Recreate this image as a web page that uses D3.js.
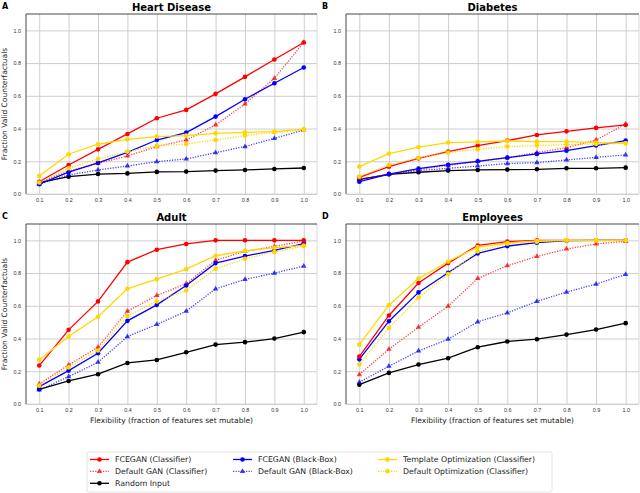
<!DOCTYPE html>
<html><head><meta charset="utf-8">
<script src="https://cdn.jsdelivr.net/npm/d3@7"></script>
<style>body{margin:0;background:#fff}svg{display:block;font-family:"DejaVu Sans",sans-serif}</style>
</head><body>
<svg id="c" width="640" height="493"></svg>
<script>
const flexibility = [0.1,0.2,0.3,0.4,0.5,0.6,0.7,0.8,0.9,1.0];
const xTickLabels = ["0.1","0.2","0.3","0.4","0.5","0.6","0.7","0.8","0.9","1.0"];
const yTickValues = [0.0,0.2,0.4,0.6,0.8,1.0];
const datasets = ["Heart Disease","Diabetes","Adult","Employees"];
const panelLetters = ["A","B","C","D"];
const seriesNames = ["FCEGAN (Classifier)","Default GAN (Classifier)","Random Input","FCEGAN (Black-Box)","Default GAN (Black-Box)","Template Optimization (Classifier)","Default Optimization (Classifier)"];

// Heart Disease
const heartFcegan     = [0.075,0.177,0.273,0.367,0.463,0.514,0.612,0.716,0.822,0.926];
const heartDefGan     = [0.070,0.140,0.188,0.232,0.290,0.330,0.422,0.550,0.707,0.926];
const heartRandom     = [0.070,0.106,0.122,0.126,0.135,0.137,0.143,0.147,0.153,0.159];
const heartFceganBB   = [0.060,0.133,0.190,0.255,0.330,0.375,0.473,0.579,0.677,0.773];
const heartDefGanBB   = [0.060,0.116,0.147,0.171,0.198,0.214,0.253,0.290,0.340,0.391];
const heartTemplate   = [0.110,0.243,0.304,0.334,0.351,0.357,0.371,0.377,0.381,0.396];
const heartDefOpt     = [0.070,0.157,0.214,0.259,0.294,0.306,0.330,0.357,0.377,0.391];
// Diabetes
const diabFcegan      = [0.102,0.167,0.218,0.259,0.296,0.326,0.361,0.383,0.404,0.422];
const diabDefGan      = [0.090,0.120,0.150,0.175,0.200,0.222,0.253,0.283,0.330,0.428];
const diabRandom      = [0.090,0.120,0.133,0.143,0.147,0.149,0.151,0.157,0.157,0.161];
const diabFceganBB    = [0.075,0.122,0.155,0.179,0.200,0.222,0.245,0.265,0.296,0.326];
const diabDefGanBB    = [0.086,0.122,0.143,0.157,0.171,0.186,0.192,0.208,0.224,0.239];
const diabTemplate    = [0.167,0.247,0.287,0.314,0.318,0.324,0.320,0.320,0.314,0.310];
const diabDefOpt      = [0.106,0.177,0.220,0.253,0.273,0.290,0.296,0.302,0.306,0.310];
// Adult
const adultFcegan     = [0.235,0.453,0.627,0.867,0.943,0.978,1.000,1.000,1.000,1.000];
const adultDefGan     = [0.122,0.239,0.347,0.567,0.663,0.735,0.878,0.933,0.963,0.996];
const adultRandom     = [0.090,0.141,0.182,0.251,0.269,0.316,0.363,0.378,0.400,0.439];
const adultFceganBB   = [0.106,0.204,0.310,0.508,0.606,0.724,0.861,0.904,0.939,0.980];
const adultDefGanBB   = [0.086,0.167,0.255,0.412,0.486,0.567,0.704,0.761,0.800,0.843];
const adultTemplate   = [0.271,0.412,0.533,0.704,0.763,0.824,0.906,0.935,0.955,0.969];
const adultDefOpt     = [0.112,0.224,0.327,0.537,0.627,0.694,0.827,0.888,0.929,0.965];
// Employees
const empFcegan       = [0.290,0.541,0.739,0.861,0.969,0.992,1.000,1.000,1.000,1.000];
const empDefGan       = [0.180,0.335,0.469,0.598,0.767,0.845,0.902,0.947,0.978,0.994];
const empRandom       = [0.118,0.190,0.241,0.280,0.347,0.382,0.396,0.424,0.455,0.494];
const empFceganBB     = [0.273,0.506,0.682,0.802,0.920,0.965,0.986,0.998,1.000,1.000];
const empDefGanBB     = [0.133,0.231,0.324,0.396,0.502,0.557,0.627,0.684,0.733,0.792];
const empTemplate     = [0.363,0.604,0.767,0.871,0.959,0.984,0.996,1.000,1.000,1.000];
const empDefOpt       = [0.241,0.465,0.651,0.794,0.933,0.980,0.992,1.000,1.000,1.000];

const panelData = [
  [heartFcegan,heartDefGan,heartRandom,heartFceganBB,heartDefGanBB,heartTemplate,heartDefOpt],
  [diabFcegan,diabDefGan,diabRandom,diabFceganBB,diabDefGanBB,diabTemplate,diabDefOpt],
  [adultFcegan,adultDefGan,adultRandom,adultFceganBB,adultDefGanBB,adultTemplate,adultDefOpt],
  [empFcegan,empDefGan,empRandom,empFceganBB,empDefGanBB,empTemplate,empDefOpt]
];

const styles = [
  {color:"#ff0000", dash:null, marker:"circle", opacity:1},
  {color:"#ff0000", dash:"1.2,1.4", marker:"triangle", opacity:0.75},
  {color:"#000000", dash:null, marker:"circle", opacity:1},
  {color:"#0000ff", dash:null, marker:"circle", opacity:1},
  {color:"#0000ff", dash:"1.2,1.4", marker:"triangle", opacity:0.75},
  {color:"#ffd700", dash:null, marker:"circle", opacity:1},
  {color:"#ffd700", dash:"1.2,1.4", marker:"circle", opacity:1}
];
const drawOrder = [2,4,1,3,0,6,5];

const svg = d3.select("#c");
const panels = [
  {x0:26, x1:317, y0:14, y1:194},
  {x0:346, x1:639, y0:14, y1:194},
  {x0:26, x1:317, y0:224, y1:404},
  {x0:346, x1:639, y0:224, y1:404}
];

function marker(g, type, x, y, color, op){
  if(type==="triangle"){
    g.append("path").attr("d", d3.symbol().type(d3.symbolTriangle).size(13)())
      .attr("transform",`translate(${x},${y})`).attr("fill",color).attr("opacity",op);
  } else {
    g.append("circle").attr("cx",x).attr("cy",y).attr("r",2.3).attr("fill",color).attr("opacity",op);
  }
}

panels.forEach((p,i)=>{
  const x = d3.scaleLinear().domain([0.055,1.045]).range([p.x0,p.x1]);
  const y = d3.scaleLinear().domain([0,1.1]).range([p.y1,p.y0]);
  const g = svg.append("g");
  g.append("g").attr("transform",`translate(0,${p.y1})`)
    .call(d3.axisBottom(x).tickValues(flexibility).tickSize(-(p.y1-p.y0)).tickFormat((d,k)=>xTickLabels[k]))
    .call(a=>a.select(".domain").remove())
    .call(a=>a.selectAll("line").attr("stroke","#c8c8c8").attr("stroke-width",0.9))
    .call(a=>a.selectAll("text").attr("font-size",5.4).attr("fill","#333").attr("dy","0.9em").attr("y",3));
  g.append("g").attr("transform",`translate(${p.x0},0)`)
    .call(d3.axisLeft(y).tickValues(yTickValues).tickSize(-(p.x1-p.x0)).tickFormat(d3.format(".1f")))
    .call(a=>a.select(".domain").remove())
    .call(a=>a.selectAll("line").attr("stroke","#c8c8c8").attr("stroke-width",0.9))
    .call(a=>a.selectAll("text").attr("font-size",5.4).attr("fill","#333").attr("x",-5));
  g.append("line").attr("x1",p.x0).attr("x2",p.x1).attr("y1",p.y1).attr("y2",p.y1).attr("stroke","#d0d0d0").attr("stroke-width",0.8);
  g.append("line").attr("x1",p.x1).attr("x2",p.x1).attr("y1",p.y0).attr("y2",p.y1).attr("stroke","#d0d0d0").attr("stroke-width",0.8);
  g.append("line").attr("x1",p.x0).attr("x2",p.x1).attr("y1",p.y0).attr("y2",p.y0).attr("stroke","#333").attr("stroke-width",0.9);
  g.append("line").attr("x1",p.x0).attr("x2",p.x0).attr("y1",p.y0).attr("y2",p.y1).attr("stroke","#333").attr("stroke-width",0.9);
  const line = d3.line().x((d,k)=>x(flexibility[k])).y(d=>y(d));
  drawOrder.forEach(s=>{
    const st = styles[s], vals = panelData[i][s];
    g.append("path").attr("d",line(vals)).attr("fill","none").attr("stroke",st.color)
      .attr("stroke-width",1.3).attr("stroke-dasharray",st.dash).attr("opacity",st.opacity);
    vals.forEach((v,k)=>marker(g, st.marker, x(flexibility[k]), y(v), st.color, st.opacity));
  });
  g.append("text").attr("x",(p.x0+p.x1)/2).attr("y",p.y0-3).attr("text-anchor","middle")
    .attr("font-size",10).attr("font-weight","bold").text(datasets[i]);
  g.append("text").attr("x",p.x0-24).attr("y",p.y0-5).attr("font-size",8).attr("font-weight","bold").text(panelLetters[i]);
  if(i%2===0){
    g.append("text").attr("transform",`translate(7,${(p.y0+p.y1)/2}) rotate(-90)`).attr("text-anchor","middle")
      .attr("font-size",7.5).attr("fill","#222").text("Fraction Valid Counterfactuals");
  }
  if(i>=2){
    g.append("text").attr("x",(p.x0+p.x1)/2).attr("y",p.y1+19).attr("text-anchor","middle")
      .attr("font-size",7.5).attr("fill","#222").text("Flexibility (fraction of features set mutable)");
  }
});

const leg = svg.append("g");
leg.append("rect").attr("x",87).attr("y",452).attr("width",465).attr("height",40).attr("rx",2)
  .attr("fill","#fff").attr("stroke","#ddd").attr("stroke-width",0.8);
const colX = [90,233,378];
const rowY = [459.5,471.3,483.3];
const legendPos = [[0,0],[0,1],[0,2],[1,0],[1,1],[2,0],[2,1]];
seriesNames.forEach((name,s)=>{
  const [c,r] = legendPos[s], st = styles[s];
  const lx = colX[c], ly = rowY[r];
  leg.append("line").attr("x1",lx).attr("x2",lx+19).attr("y1",ly).attr("y2",ly).attr("stroke",st.color)
    .attr("stroke-width",1.3).attr("stroke-dasharray",st.dash).attr("opacity",st.opacity);
  marker(leg, st.marker, lx+9.5, ly, st.color, st.opacity);
  leg.append("text").attr("x",lx+25).attr("y",ly+2.8).attr("font-size",7.8).attr("fill","#222").text(name);
});
</script>
</body></html>
